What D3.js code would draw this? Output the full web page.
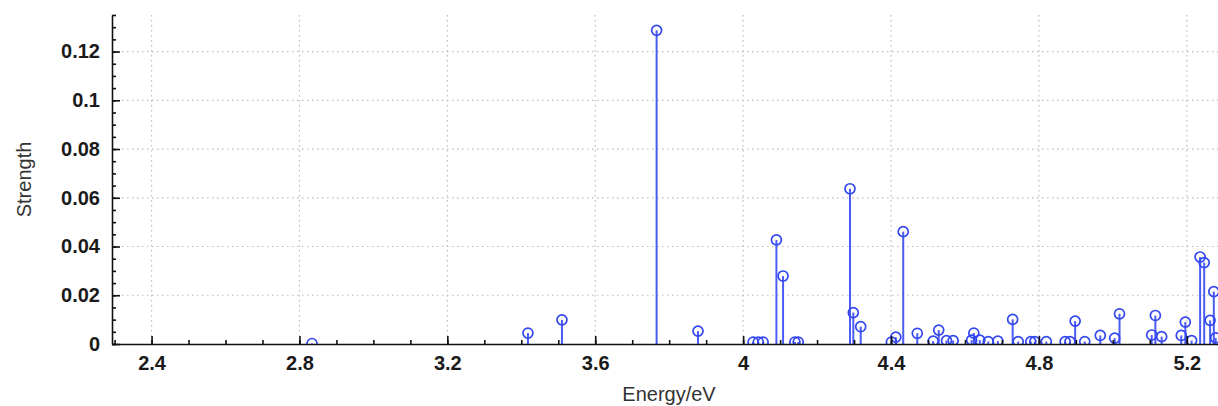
<!DOCTYPE html>
<html lang="en">
<head>
    <meta charset="UTF-8">
    <title>Strength vs Energy</title>
    <style>
        body { margin: 0; background: #fff; }
        .grid line { stroke: #bdbdbd; stroke-width: 1.2; stroke-dasharray: 1.5,3.5; }
        .axis path, .axis line { stroke: #111; stroke-width: 1.6; }
        .axis text { font: bold 20px "Liberation Sans", Arial, sans-serif; fill: #1a1a1a; }
        .label { font: 20px "Liberation Sans", Arial, sans-serif; fill: #333; }
    </style>
</head>
<body>
    <script src="https://d3js.org/d3.v7.min.js"></script>
    <script>
// excitation energies (eV) and oscillator strengths
const energies = [2.834, 3.418, 3.510, 3.766, 3.878, 4.027, 4.041, 4.054, 4.090, 4.108,
    4.140, 4.149, 4.289, 4.298, 4.318, 4.401, 4.413, 4.433, 4.471, 4.514,
    4.529, 4.550, 4.568, 4.618, 4.624, 4.640, 4.663, 4.689, 4.729, 4.744,
    4.778, 4.789, 4.820, 4.871, 4.884, 4.898, 4.924, 4.966, 5.005, 5.018,
    5.105, 5.115, 5.132, 5.185, 5.196, 5.213, 5.236, 5.247, 5.263, 5.273, 5.278];
const strengths = [0.0002, 0.0045, 0.0099, 0.1287, 0.0053, 0.0008, 0.0008, 0.0008, 0.0427, 0.0279,
    0.0008, 0.0008, 0.0637, 0.0129, 0.0071, 0.0008, 0.0028, 0.0461, 0.0044, 0.0012,
    0.0057, 0.0014, 0.0014, 0.0016, 0.0045, 0.0016, 0.0010, 0.0012, 0.0101, 0.0010,
    0.0010, 0.0010, 0.0010, 0.0010, 0.0010, 0.0094, 0.0010, 0.0035, 0.0024, 0.0124,
    0.0037, 0.0117, 0.0030, 0.0035, 0.0090, 0.0014, 0.0357, 0.0334, 0.0097, 0.0215, 0.0025];

const xTicks = [2.4, 2.8, 3.2, 3.6, 4, 4.4, 4.8, 5.2];
const yTicks = [0, 0.02, 0.04, 0.06, 0.08, 0.1, 0.12];
const xLabel = "Energy/eV";
const yLabel = "Strength";

const width = 1218, height = 406;
const plotL = 112, plotR = 1226, plotT = 15, plotB = 344;

const x = d3.scaleLinear().domain([2.293, 5.306]).range([plotL, plotR]);
const y = d3.scaleLinear().domain([0, 0.135]).range([plotB, plotT]);

const svg = d3.select("body").append("svg")
    .attr("width", width)
    .attr("height", height);

svg.append("defs").append("clipPath").attr("id", "plot")
    .append("rect")
    .attr("x", plotL).attr("y", plotT)
    .attr("width", plotR - plotL).attr("height", plotB - plotT);

// dotted grid
svg.append("g").attr("class", "grid")
    .selectAll("line").data(xTicks).join("line")
    .attr("x1", d => x(d)).attr("x2", d => x(d))
    .attr("y1", plotT).attr("y2", plotB);
svg.append("g").attr("class", "grid")
    .selectAll("line").data(yTicks.filter(d => d > 0)).join("line")
    .attr("x1", plotL).attr("x2", plotR)
    .attr("y1", d => y(d)).attr("y2", d => y(d));

// stems + hollow markers
const marks = svg.append("g").attr("clip-path", "url(#plot)");
marks.selectAll("line").data(energies).join("line")
    .attr("x1", d => x(d)).attr("x2", d => x(d))
    .attr("y1", y(0)).attr("y2", (d, i) => y(strengths[i]))
    .attr("stroke", "#4a5cf3")
    .attr("stroke-width", 2);
marks.selectAll("circle").data(energies).join("circle")
    .attr("cx", d => x(d))
    .attr("cy", (d, i) => y(strengths[i]))
    .attr("r", 5)
    .attr("fill", "none")
    .attr("stroke", "#3347f0")
    .attr("stroke-width", 1.7);

// axes, ticks pointing inward
const minorX = d3.range(2.3, 5.31, 0.1);
const minorY = d3.range(0, 0.1351, 0.005);

svg.append("g").attr("class", "axis")
    .attr("transform", `translate(0,${plotB})`)
    .call(d3.axisBottom(x).tickValues(minorX).tickSize(-4).tickFormat(""))
    .call(g => g.select(".domain").remove());
svg.append("g").attr("class", "axis")
    .attr("transform", `translate(0,${plotB})`)
    .call(d3.axisBottom(x).tickValues(xTicks).tickSizeInner(-8).tickSizeOuter(0).tickPadding(12)
        .tickFormat(d3.format("~g")));

svg.append("g").attr("class", "axis")
    .attr("transform", `translate(${plotL},0)`)
    .call(d3.axisLeft(y).tickValues(minorY).tickSize(-4).tickFormat(""))
    .call(g => g.select(".domain").remove());
svg.append("g").attr("class", "axis")
    .attr("transform", `translate(${plotL},0)`)
    .call(d3.axisLeft(y).tickValues(yTicks).tickSizeInner(-8).tickSizeOuter(0).tickPadding(12)
        .tickFormat(d3.format("~g")));

svg.append("text").attr("class", "label")
    .attr("x", (plotL + plotR) / 2).attr("y", 401)
    .attr("text-anchor", "middle")
    .text(xLabel);
svg.append("text").attr("class", "label")
    .attr("transform", `translate(31,${(plotT + plotB) / 2}) rotate(-90)`)
    .attr("text-anchor", "middle")
    .text(yLabel);
    </script>
</body>
</html>
